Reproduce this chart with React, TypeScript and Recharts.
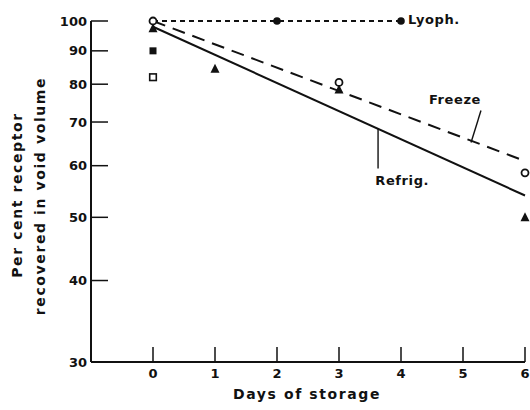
import React from "react";
import { ComposedChart, Line, Scatter, XAxis, YAxis, ReferenceLine, ReferenceDot } from "recharts";

const dayTicks = [0, 1, 2, 3, 4, 5, 6];
const pctTicks = [30, 40, 50, 60, 70, 80, 90, 100];

const lyophDays = [0, 2, 4];
const lyophPct = [100, 100, 100];
const freezeDays = [0, 6];
const freezePct = [100, 61];
const refrigDays = [0, 6];
const refrigPct = [98, 54];

const openCircleDays = [0, 3, 6];
const openCirclePct = [100, 80.5, 58.5];
const triangleDays = [0, 1, 3, 6];
const trianglePct = [97.5, 84.5, 78.5, 50];
const filledSquareDays = [0];
const filledSquarePct = [90];
const openSquareDays = [0];
const openSquarePct = [82];

const pts = (days: number[], pct: number[]) => days.map((day, i) => ({ day, pct: pct[i] }));

const INK = "#111";
const FONT = "'DejaVu Sans', sans-serif";

const YTick = (p: any) => {
  const ax = p.x + 4;
  return (
    <g>
      <line x1={ax} x2={ax + 17} y1={p.y} y2={p.y} stroke={INK} strokeWidth={1.5} />
      <text x={p.x} y={p.y} dy="0.35em" textAnchor="end" fontSize={13} fontWeight="bold" fontFamily={FONT} fill={INK}>
        {p.payload.value}
      </text>
    </g>
  );
};

const XTick = (p: any) => {
  const ay = p.y - 4;
  return (
    <g>
      <line x1={p.x} x2={p.x} y1={ay} y2={ay - 15} stroke={INK} strokeWidth={1.5} />
      <text x={p.x} y={ay} dy={16} textAnchor="middle" fontSize={13} fontWeight="bold" fontFamily={FONT} fill={INK}>
        {p.payload.value}
      </text>
    </g>
  );
};

const YTitle = () => (
  <g fontSize={14} fontWeight="bold" fontFamily={FONT} fill={INK} letterSpacing={1.6}>
    <text x={17} y={195} textAnchor="middle" dominantBaseline="central" transform="rotate(-90 17 195)">Per cent receptor</text>
    <text x={40} y={196} textAnchor="middle" dominantBaseline="central" transform="rotate(-90 40 196)">recovered in void volume</text>
  </g>
);

const XTitle = () => (
  <text x={307} y={394} textAnchor="middle" dominantBaseline="central" fontSize={14} fontWeight="bold" fontFamily={FONT} fill={INK} letterSpacing={1.6}>
    Days of storage
  </text>
);

const filledCircle = (p: any) => <circle cx={p.cx} cy={p.cy} r={3.8} fill={INK} />;
const openCircle = (p: any) => <circle cx={p.cx} cy={p.cy} r={3.5} fill="#fff" stroke={INK} strokeWidth={1.8} />;
const triangle = (p: any) => (
  <polygon points={`${p.cx},${p.cy - 5} ${p.cx - 4.5},${p.cy + 4} ${p.cx + 4.5},${p.cy + 4}`} fill={INK} />
);
const filledSquare = (p: any) => <rect x={p.cx - 3.5} y={p.cy - 3.5} width={7} height={7} fill={INK} />;
const openSquare = (p: any) => (
  <rect x={p.cx - 3.3} y={p.cy - 3.3} width={6.6} height={6.6} fill="#fff" stroke={INK} strokeWidth={1.6} />
);

const labelStyle = { fontSize: 13, fontWeight: "bold", fontFamily: FONT, fill: INK, letterSpacing: 0.6 };

export default function App() {
  return (
    <div style={{ position: "absolute", left: 0, top: 0, background: "#fff" }}>
      <ComposedChart width={530} height={410} margin={{ top: 21, right: 5, bottom: 18, left: 41 }}>
        <XAxis
          dataKey="day"
          type="number"
          domain={[-1, 6]}
          ticks={dayTicks}
          axisLine={{ stroke: INK, strokeWidth: 2 }}
          tickLine={false}
          tickSize={0}
          tickMargin={4}
          height={30}
          tick={<XTick />}
          label={<XTitle />}
        />
        <YAxis
          type="number"
          scale="log"
          domain={[30, 100]}
          ticks={pctTicks}
          axisLine={{ stroke: INK, strokeWidth: 2 }}
          tickLine={false}
          tickSize={0}
          tickMargin={4}
          width={50}
          tick={<YTick />}
          label={<YTitle />}
        />
        <Line data={pts(lyophDays, lyophPct)} dataKey="pct" stroke={INK} strokeWidth={2} strokeDasharray="5 4"
          dot={false} isAnimationActive={false} />
        <Line data={pts(freezeDays, freezePct)} dataKey="pct" stroke={INK} strokeWidth={2} strokeDasharray="13 8"
          dot={false} isAnimationActive={false} />
        <Line data={pts(refrigDays, refrigPct)} dataKey="pct" stroke={INK} strokeWidth={2}
          dot={false} isAnimationActive={false} />
        <Scatter data={pts(lyophDays, lyophPct)} dataKey="pct" shape={filledCircle} isAnimationActive={false} />
        <Scatter data={pts(triangleDays, trianglePct)} dataKey="pct" shape={triangle} isAnimationActive={false} />
        <Scatter data={pts(openCircleDays, openCirclePct)} dataKey="pct" shape={openCircle} isAnimationActive={false} />
        <Scatter data={pts(filledSquareDays, filledSquarePct)} dataKey="pct" shape={filledSquare} isAnimationActive={false} />
        <Scatter data={pts(openSquareDays, openSquarePct)} dataKey="pct" shape={openSquare} isAnimationActive={false} />
        <ReferenceLine segment={[{ x: 5.29, y: 72.9 }, { x: 5.13, y: 65.1 }]} stroke={INK} strokeWidth={1.4} ifOverflow="visible" />
        <ReferenceLine segment={[{ x: 3.63, y: 68.4 }, { x: 3.63, y: 59.4 }]} stroke={INK} strokeWidth={1.4} ifOverflow="visible" />
        <ReferenceDot x={4.53} y={100.5} r={0} fill="none" stroke="none" ifOverflow="visible"
          label={{ value: "Lyoph.", position: "center", ...labelStyle }} />
        <ReferenceDot x={4.87} y={75.7} r={0} fill="none" stroke="none" ifOverflow="visible"
          label={{ value: "Freeze", position: "center", ...labelStyle }} />
        <ReferenceDot x={4.02} y={56.9} r={0} fill="none" stroke="none" ifOverflow="visible"
          label={{ value: "Refrig.", position: "center", ...labelStyle }} />
      </ComposedChart>
    </div>
  );
}
